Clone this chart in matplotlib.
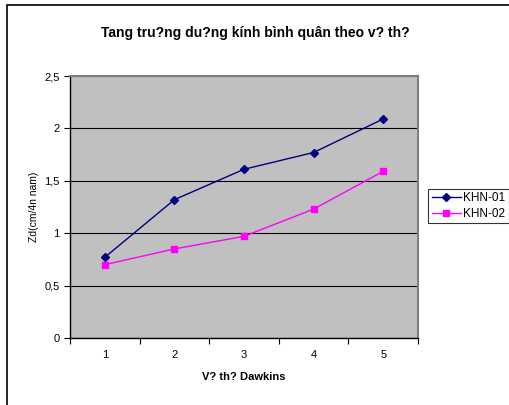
import numpy as np
import matplotlib
matplotlib.use('Agg')
from matplotlib import pyplot as plt
from matplotlib.patches import Rectangle

plt.rcParams['font.family'] = ['Liberation Sans', 'DejaVu Sans']

# data
years = [1, 2, 3, 4, 5]
khn01 = [0.77, 1.32, 1.61, 1.77, 2.09]
khn02 = [0.70, 0.85, 0.97, 1.23, 1.59]
ytick_labels = ['0', '0,5', '1', '1,5', '2', '2,5']

fig = plt.figure(figsize=(5.1, 4.05), dpi=100)

# outer chart border (right and bottom are cut off in the original)
fig.patches.append(Rectangle((7/510, -0.1), 1.2, (405 - 5)/405 + 0.1,
                             transform=fig.transFigure, fill=False,
                             edgecolor='black', linewidth=1.2))

ax = fig.add_axes([70/510, (405 - 338)/405, 348/510, 262/405])
ax.set_facecolor('#c0c0c0')

x = np.arange(len(years))
ax.plot(x, khn01, color='#000080', marker='D', markersize=4, linewidth=1, label='KHN-01')
ax.plot(x, khn02, color='#ff00ff', marker='s', markersize=5, linewidth=1, label='KHN-02')

ax.set_xlim(-0.5, 4.5)
ax.set_ylim(0, 2.5)
ax.set_xticks(np.arange(-0.5, 5, 1))
ax.set_xticklabels([])
ax.set_xticks(x, minor=True)
ax.set_xticklabels([str(v) for v in years], minor=True)
ax.tick_params(axis='x', which='minor', length=0, pad=9, labelsize=8)
ax.tick_params(axis='x', which='major', length=4, direction='out')
ax.set_yticks(np.arange(0, 2.51, 0.5))
ax.set_yticklabels(ytick_labels)
ax.tick_params(axis='y', length=4, direction='out', labelsize=8)

ax.yaxis.grid(True, color='black', linewidth=0.8)
ax.set_axisbelow(True)

ax.spines['top'].set_color('#808080')
ax.spines['right'].set_color('#808080')
ax.spines['top'].set_linewidth(1.5)
ax.spines['right'].set_linewidth(1.5)
ax.spines['left'].set_linewidth(1)
ax.spines['bottom'].set_linewidth(1)

ax.set_xlabel('V? th? Dawkins', fontsize=8, fontweight='bold', labelpad=8)
ax.set_ylabel('Zd(cm/4n nam)', fontsize=7.5, labelpad=4)

fig.text(0.5, (405 - 33)/405, 'Tang tru?ng du?ng kính bình quân theo v? th?',
         ha='center', va='center', fontsize=10, fontweight='bold')

leg = fig.legend(loc='center left', bbox_to_anchor=(428/510, (405 - 206)/405),
                 fontsize=8.5, frameon=True, fancybox=False, edgecolor='black',
                 borderpad=0.3, handlelength=2.5, handletextpad=0.2, labelspacing=0.3,
                 borderaxespad=0)
leg.get_frame().set_linewidth(0.8)

fig.savefig('out.png', dpi=100)
